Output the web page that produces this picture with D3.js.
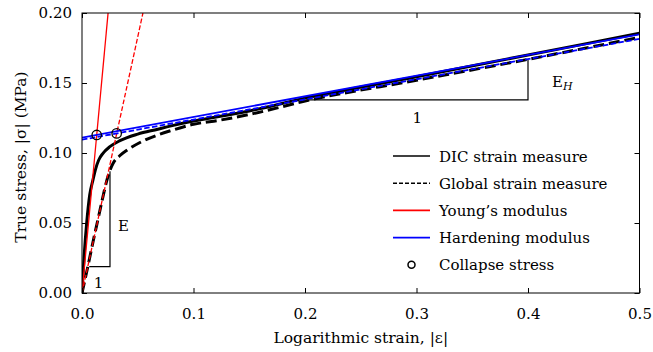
<!DOCTYPE html>
<html>
<head>
<meta charset="utf-8">
<script src="https://cdn.jsdelivr.net/npm/d3@7"></script>
<style>
  body { margin: 0; background: #fff; }
  text { font-family: "DejaVu Serif", "Liberation Serif", serif; }
</style>
</head>
<body>
<div id="chart"></div>
<script>
// data (strain, stress in MPa)
const dicStrain = [0, 0.0018, 0.0042, 0.0069, 0.0099, 0.012, 0.015, 0.0188, 0.025, 0.034, 0.05, 0.068, 0.079, 0.1, 0.124, 0.15, 0.2, 0.3, 0.4, 0.5];
const dicStress = [0, 0.025, 0.05, 0.07, 0.081, 0.088, 0.095, 0.0998, 0.1045, 0.1088, 0.1135, 0.117, 0.1192, 0.1228, 0.1262, 0.130, 0.1392, 0.1545, 0.170, 0.1855];

const globalStrain = [0, 0.005, 0.01, 0.015, 0.018, 0.0218, 0.0248, 0.0278, 0.0338, 0.0413, 0.0532, 0.0666, 0.079, 0.1, 0.124, 0.15, 0.2045, 0.3, 0.4, 0.5];
const globalStress = [0, 0.018, 0.037, 0.055, 0.066, 0.079, 0.087, 0.0925, 0.098, 0.1025, 0.108, 0.1125, 0.1158, 0.1205, 0.1235, 0.1275, 0.1379, 0.152, 0.1669, 0.1826];

// moduli: [DIC, global]
const youngModulus = [8.55, 3.66];
const hardeningModulus = [0.1475, 0.144];
const hardeningIntercept = [0.111, 0.1095];
const collapseStrain = [0.0132, 0.0311];
const collapseStress = [0.1129, 0.114];

// slope triangles: [x0, x1, y0, y1]
const triE = [0.0065, 0.0251, 0.0188, 0.087];
const triEH = [0.2015, 0.4, 0.1379, 0.1664];

const xTicks = [0, 0.1, 0.2, 0.3, 0.4, 0.5];
const yTicks = [0, 0.05, 0.1, 0.15, 0.2];

const legendLabels = ["DIC strain measure", "Global strain measure", "Young\u2019s modulus", "Hardening modulus", "Collapse stress"];

const W = 653, H = 352;
const margin = { top: 13, right: 13.5, bottom: 59, left: 82 };
const width = W - margin.left - margin.right;
const height = H - margin.top - margin.bottom;

const svg = d3.select("#chart").append("svg")
  .attr("width", W).attr("height", H);

const g = svg.append("g")
  .attr("transform", `translate(${margin.left},${margin.top})`);

const x = d3.scaleLinear().domain([0, 0.5]).range([0, width]);
const y = d3.scaleLinear().domain([0, 0.2]).range([height, 0]);

g.append("clipPath").attr("id", "clip")
  .append("rect").attr("width", width).attr("height", height);

const plot = g.append("g").attr("clip-path", "url(#clip)");

const line = d3.line().x(d => x(d[0])).y(d => y(d[1]));
const smooth = d3.line().x(d => x(d[0])).y(d => y(d[1])).curve(d3.curveMonotoneX);

const dic = dicStrain.map((s, i) => [s, dicStress[i]]);
const glob = globalStrain.map((s, i) => [s, globalStress[i]]);

plot.append("path")
  .attr("d", smooth(dic))
  .attr("fill", "none").attr("stroke", "#000").attr("stroke-width", 3);

plot.append("path")
  .attr("d", smooth(glob))
  .attr("fill", "none").attr("stroke", "#000").attr("stroke-width", 3)
  .attr("stroke-dasharray", "11,4.8");

// slope triangles
plot.append("path")
  .attr("d", line([[triE[0], triE[2]], [triE[1], triE[2]], [triE[1], triE[3]]]))
  .attr("fill", "none").attr("stroke", "#000").attr("stroke-width", 1.2);
plot.append("path")
  .attr("d", line([[triEH[0], triEH[2]], [triEH[1], triEH[2]], [triEH[1], triEH[3]]]))
  .attr("fill", "none").attr("stroke", "#000").attr("stroke-width", 1.2);

// Young's modulus lines
youngModulus.forEach((E, i) => {
  plot.append("path")
    .attr("d", line([[0, 0], [0.2 / E, 0.2]]))
    .attr("fill", "none").attr("stroke", "#ff0000").attr("stroke-width", 1.3)
    .attr("stroke-dasharray", i === 1 ? "4.8,2.1" : null);
});

// hardening modulus lines
hardeningModulus.forEach((Eh, i) => {
  plot.append("path")
    .attr("d", line([[0, hardeningIntercept[i]], [0.5, hardeningIntercept[i] + 0.5 * Eh]]))
    .attr("fill", "none").attr("stroke", "#0000ff").attr("stroke-width", 1.8)
    .attr("stroke-dasharray", i === 1 ? "5.5,2.4" : null);
});

// collapse points
g.selectAll(".collapse")
  .data(collapseStrain)
  .enter().append("circle")
  .attr("cx", d => x(d))
  .attr("cy", (d, i) => y(collapseStress[i]))
  .attr("r", 4.7)
  .attr("fill", "none").attr("stroke", "#000").attr("stroke-width", 1.3);

// triangle labels
g.append("text").attr("x", x(triE[1]) + 8).attr("y", y(0.044)).attr("font-size", 15).text("E");
g.append("text").attr("x", x((triE[0] + triE[1]) / 2) - 1).attr("y", y(triE[2]) + 21)
  .attr("text-anchor", "middle").attr("font-size", 15).text("1");
const eh = g.append("text").attr("x", x(triEH[1]) + 24).attr("y", y(0.147)).attr("font-size", 15);
eh.append("tspan").text("E");
eh.append("tspan").attr("font-size", 11).attr("font-style", "italic").attr("dy", 3).text("H");
g.append("text").attr("x", x((triEH[0] + triEH[1]) / 2)).attr("y", y(triEH[2]) + 23)
  .attr("text-anchor", "middle").attr("font-size", 15).text("1");

// frame
g.append("rect").attr("width", width).attr("height", height)
  .attr("fill", "none").attr("stroke", "#000").attr("stroke-width", 1);

// axes with inward ticks
g.append("g").attr("transform", `translate(0,${height})`)
  .call(d3.axisBottom(x).tickValues(xTicks).tickFormat(d3.format(".1f")).tickSize(-5).tickPadding(15));
g.append("g")
  .call(d3.axisLeft(y).tickValues(yTicks).tickFormat(d3.format(".2f")).tickSize(-5).tickPadding(10));
g.append("g")
  .call(d3.axisTop(x).tickValues(xTicks).tickFormat("").tickSize(-5));
g.append("g").attr("transform", `translate(${width},0)`)
  .call(d3.axisRight(y).tickValues(yTicks).tickFormat("").tickSize(-5));

g.selectAll(".domain").remove();
g.selectAll(".tick line").attr("stroke", "#000").attr("stroke-width", 1);
g.selectAll(".tick text").attr("font-family", "DejaVu Serif").attr("font-size", 15).attr("fill", "#000");

// axis titles
svg.append("text")
  .attr("x", margin.left + width / 2).attr("y", 343)
  .attr("text-anchor", "middle").attr("font-size", 15.5)
  .text("Logarithmic strain, |\u03b5|");
svg.append("text")
  .attr("transform", `translate(26,${margin.top + height / 2 + 4}) rotate(-90)`)
  .attr("text-anchor", "middle").attr("font-size", 15.5)
  .text("True stress, |\u03c3| (MPa)");

// legend
const legend = svg.append("g").attr("transform", "translate(393,156)");
const rowH = 27.2;
legendLabels.forEach((lab, i) => {
  const row = legend.append("g").attr("transform", `translate(0,${i * rowH})`);
  if (i < 4) {
    row.append("line").attr("x1", 0).attr("x2", 37).attr("y1", 0).attr("y2", 0)
      .attr("stroke", i === 2 ? "#ff0000" : i === 3 ? "#0000ff" : "#000")
      .attr("stroke-width", 1.6)
      .attr("stroke-dasharray", i === 1 ? "4,2" : null);
  } else {
    row.append("circle").attr("cx", 18.5).attr("cy", 0).attr("r", 3.5)
      .attr("fill", "none").attr("stroke", "#000").attr("stroke-width", 1.5);
  }
  row.append("text").attr("x", 46).attr("y", 5.5).attr("font-size", 15).text(lab);
});
</script>
</body>
</html>
